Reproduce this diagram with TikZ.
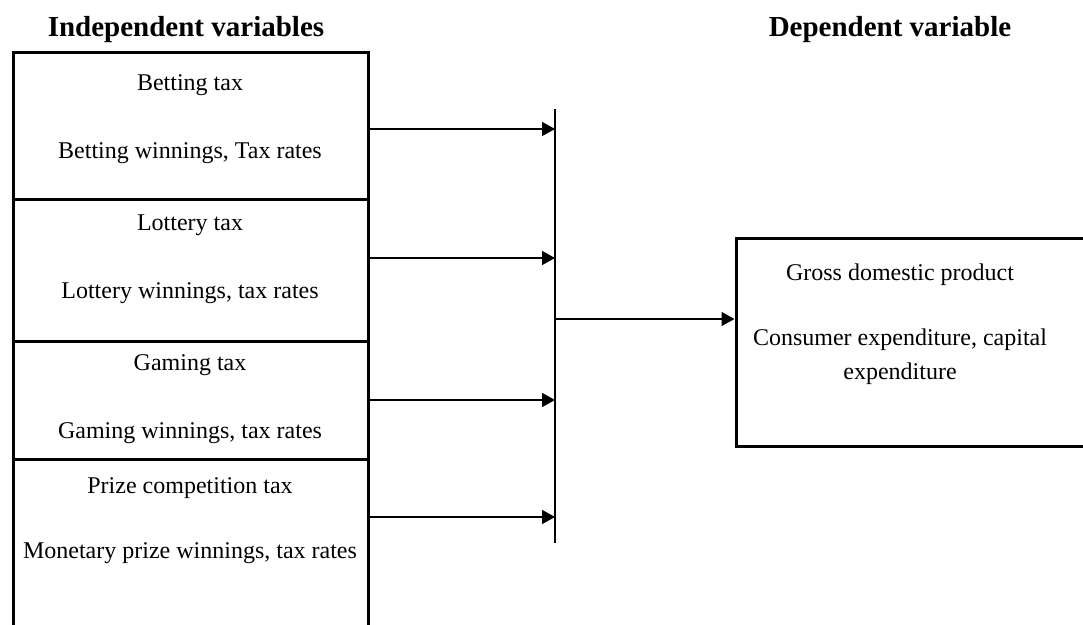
\documentclass[tikz,border=0pt]{standalone}
\usepackage{fontspec}
\setmainfont{Liberation Serif}
\usetikzlibrary{arrows.meta,calc}
\tikzstyle{cell}=[draw,line width=1.5pt,inner sep=0pt,minimum width=177.5pt]
\tikzstyle{txt}=[inner sep=0pt,font=\fontsize{12}{14.5}\selectfont,align=center]
\tikzstyle{head}=[inner sep=0pt,font=\fontsize{14.5}{17}\selectfont\bfseries]
\tikzstyle{arr}=[line width=0.75pt,-{Triangle[length=6.5pt,width=7pt]}]

\begin{document}
\begin{tikzpicture}[x=0.5pt,y=-0.5pt]
\clip (0,0) rectangle (1083,625);
\node[head] (HI) at (186,30) {Independent variables};
\node[head] (HD) at (890,30) {Dependent variable};
\node[cell, minimum height=73.5pt] at (190.5,126.5) (Bet) {};
\node[cell, minimum height=71pt] at (190.5,271) (Lot) {};
\node[cell, minimum height=59pt] at (190.5,401) (Gam) {};
\node[cell, minimum height=90pt] at (190.5,550) (Pri) {};
\node[cell, minimum width=177pt, minimum height=104pt] at (913,343) (GDP) {};
\node[txt] (Bet1) at (190,85) {Betting tax};
\node[txt] (Bet2) at (190,153) {Betting winnings, Tax rates};
\node[txt] (Lot1) at (190,225) {Lottery tax};
\node[txt] (Lot2) at (190,293) {Lottery winnings, tax rates};
\node[txt] (Gam1) at (190,365) {Gaming tax};
\node[txt] (Gam2) at (190,433) {Gaming winnings, tax rates};
\node[txt] (Pri1) at (190,488) {Prize competition tax};
\node[txt] (Pri2) at (190,553) {Monetary prize winnings, tax rates};
\node[txt] (GDP1) at (900,275) {Gross domestic product};
\node[txt] (GDP2) at (900,357) {Consumer expenditure, capital\\[2.5pt]expenditure};
\coordinate (Top) at (555,109);
\coordinate (Bot) at (555,543);
\coordinate (J) at (555,319);
\draw[line width=0.75pt] (Top) -- (Bot);
\draw[arr] ($(Bet.east)+(0,2.5)$) -- ($(Top |- Bet.east)+(0,2.5)$);
\draw[arr] ($(Lot.east)+(0,-13)$) -- ($(Top |- Lot.east)+(0,-13)$);
\draw[arr] ($(Gam.east)+(0,-1)$) -- ($(Top |- Gam.east)+(0,-1)$);
\draw[arr] ($(Pri.east)+(0,-33)$) -- ($(Top |- Pri.east)+(0,-33)$);
\draw[arr] (J) -- (J -| GDP.west);
\end{tikzpicture}
\end{document}
